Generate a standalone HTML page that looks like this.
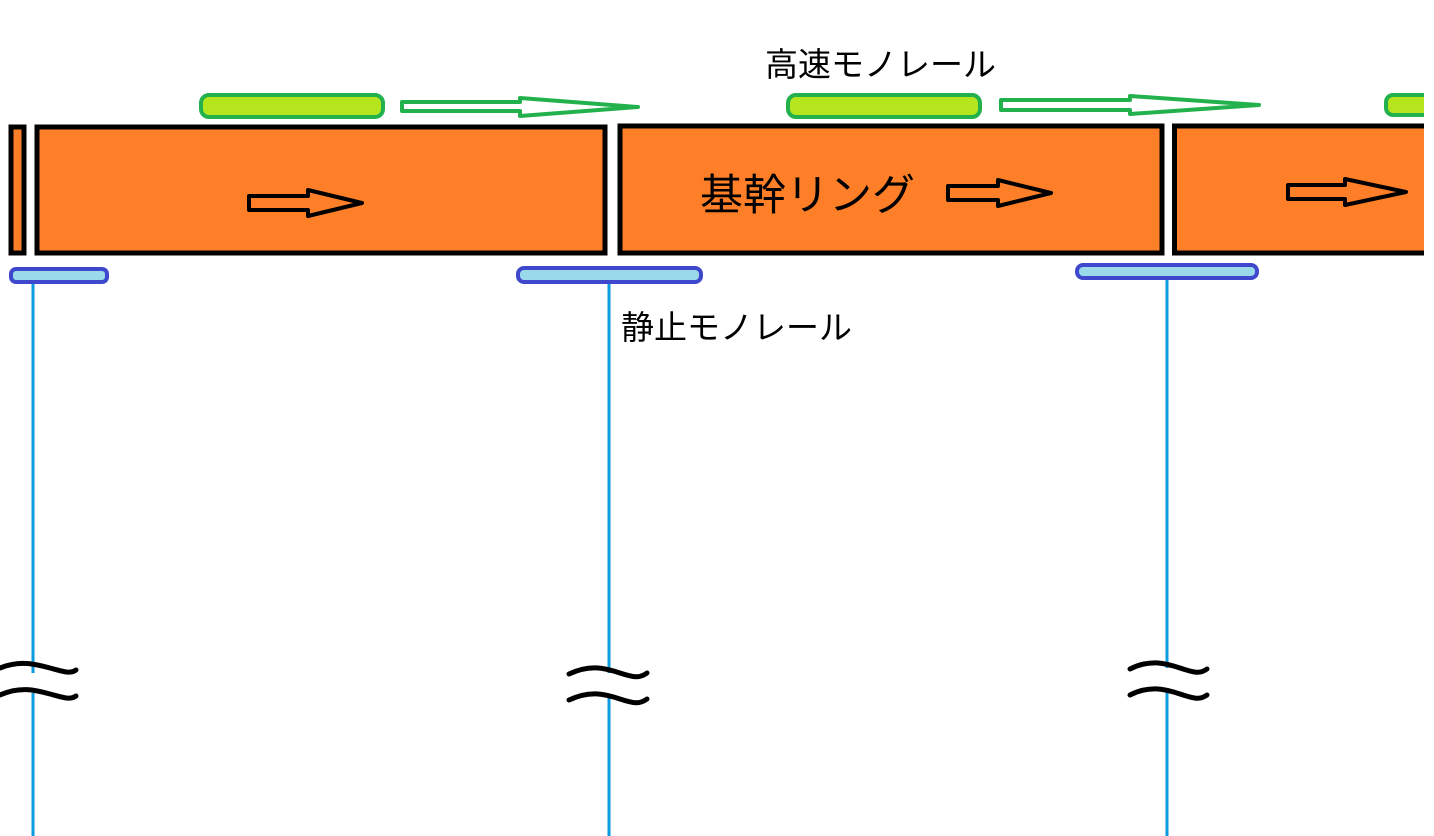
<!DOCTYPE html>
<html><head><meta charset="utf-8"><style>
html,body{margin:0;padding:0;background:#fff;width:1434px;height:836px;overflow:hidden}
text{font-family:"Liberation Sans","Noto Sans CJK JP",sans-serif;fill:#000}
</style></head><body>
<svg width="1434" height="836" viewBox="0 0 1434 836" xmlns="http://www.w3.org/2000/svg">
<g stroke="#0a9be0" stroke-width="3">
<line x1="33" y1="280" x2="33" y2="673"/><line x1="33" y1="693" x2="33" y2="836"/>
<line x1="609" y1="280" x2="609" y2="673"/><line x1="609" y1="697" x2="609" y2="836"/>
<line x1="1167" y1="276" x2="1167" y2="668"/><line x1="1167" y1="692" x2="1167" y2="836"/>
</g>
<g fill="none" stroke="#000" stroke-width="5" stroke-linecap="round">
<path d="M0 668 C20 660,35 664,50 668 S70 674,76 670"/>
<path d="M0 695 C20 686,35 690,50 694 S70 700,76 696"/>
<path d="M569 674 C590 664,605 668,620 673 S640 678,647 673"/>
<path d="M569 700 C590 690,605 694,620 699 S640 704,647 699"/>
<path d="M1130 669 C1150 659,1165 663,1180 668 S1200 674,1207 669"/>
<path d="M1130 695 C1150 685,1165 689,1180 694 S1200 700,1207 695"/>
</g>
<g fill="#fe7f27" stroke="#000" stroke-width="5">
<rect x="11" y="127" width="13" height="126"/>
<rect x="37" y="127" width="568" height="126"/>
<rect x="620" y="126" width="542" height="127"/>
<path d="M1434 126 H1174.5 V253 H1434" />
</g>
<g fill="none" stroke="#000" stroke-width="4" stroke-linejoin="round">
<path d="M249 196 H308 V190 L362 203 L308 216 V210 H249 Z"/>
<path d="M948 186 H998 V180 L1051 193 L998 206 V200 H948 Z"/>
<path d="M1288 185 H1345 V179 L1406 192 L1345 205 V199 H1288 Z"/>
</g>
<g fill="#b5e61d" stroke="#22b14c" stroke-width="4">
<rect x="201" y="95" width="182" height="22" rx="8"/>
<rect x="788" y="95" width="192" height="22" rx="8"/>
<rect x="1386" y="95" width="60" height="20" rx="7"/>
</g>
<rect x="1424" y="80" width="10" height="185" fill="#fff"/>
<g fill="#fff" stroke="#22b14c" stroke-width="4" stroke-linejoin="round">
<path d="M402 102 H520 V98 L638 107 L520 116 V111 H402 Z"/>
<path d="M1001 100 H1130 V96 L1259 105 L1130 114 V110 H1001 Z"/>
</g>
<g fill="#99d9ea" stroke="#3f48cc" stroke-width="4">
<rect x="11" y="269" width="96" height="13" rx="5"/>
<rect x="518" y="268" width="183" height="14" rx="6"/>
<rect x="1077" y="265" width="180" height="13" rx="6"/>
</g>
<text x="765" y="76" font-size="33">高速モノレール</text>
<text x="700" y="210" font-size="43">基幹リング</text>
<text x="621" y="339" font-size="33">静止モノレール</text>
</svg>
</body></html>
